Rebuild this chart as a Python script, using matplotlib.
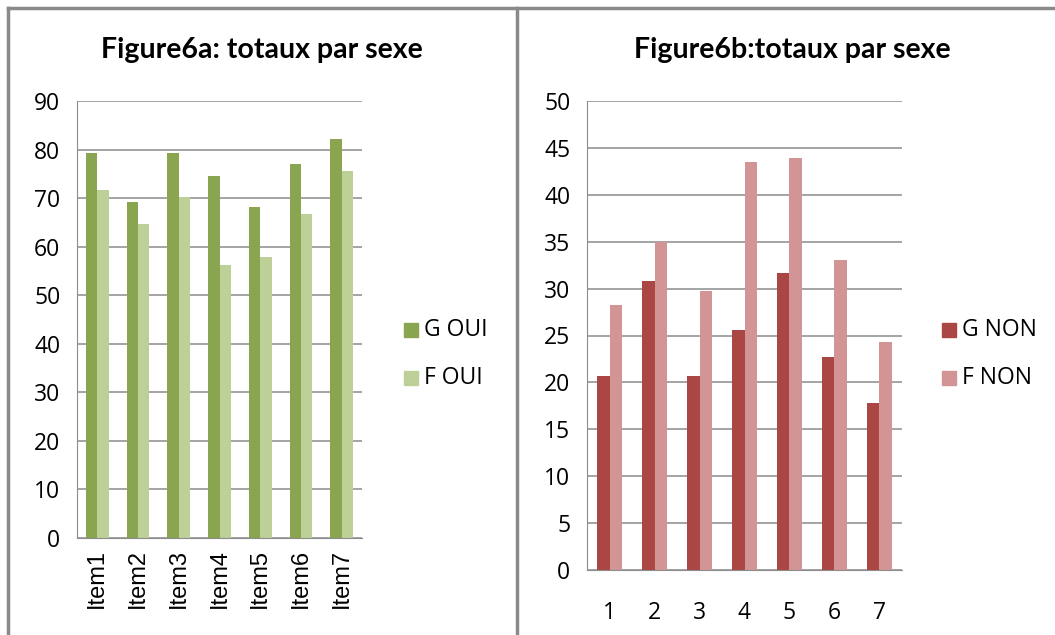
import numpy as np
import matplotlib.pyplot as plt
from matplotlib.lines import Line2D

items_a = ["Item1", "Item2", "Item3", "Item4", "Item5", "Item6", "Item7"]
g_oui = [79.2, 69.2, 79.2, 74.5, 68.1, 77.1, 82.1]
f_oui = [71.6, 64.7, 70.3, 56.3, 57.8, 66.8, 75.5]

items_b = ["1", "2", "3", "4", "5", "6", "7"]
g_non = [20.7, 30.8, 20.7, 25.6, 31.7, 22.7, 17.8]
f_non = [28.2, 35.0, 29.7, 43.5, 43.9, 33.1, 24.3]

W, H = 1055, 635
fig = plt.figure(figsize=(W / 100, H / 100), dpi=100)
fig.patch.set_facecolor("white")

title_font = "Lato"
tick_font = "Open Sans"
tick_size = 16.5


def px_axes(x0, y0, x1, y1):
    return fig.add_axes([x0 / W, 1 - y1 / H, (x1 - x0) / W, (y1 - y0) / H])


def style(ax, ymax, step):
    ax.set_ylim(0, ymax)
    ax.set_yticks(np.arange(0, ymax + 1, step))
    ax.grid(axis="y", color="#8c8c8c", linewidth=1.1)
    ax.set_axisbelow(True)
    for s in ["top", "right"]:
        ax.spines[s].set_visible(False)
    ax.spines["left"].set_color("#8c8c8c")
    ax.spines["bottom"].set_color("#8c8c8c")
    ax.tick_params(axis="y", length=0, pad=12, labelsize=tick_size)
    ax.tick_params(axis="x", length=0)
    for lab in ax.get_yticklabels():
        lab.set_fontfamily(tick_font)


def bars(ax, cats, s1, s2, c1, c2):
    x = np.arange(len(cats))
    w = 0.28
    ax.bar(x - w / 2, s1, w, color=c1)
    ax.bar(x + w / 2, s2, w, color=c2)
    ax.set_xlim(-0.5, len(cats) - 0.5)
    ax.set_xticks(x)


# panel a
ax1 = px_axes(77, 101, 362, 538)
bars(ax1, items_a, g_oui, f_oui, "#8aa54f", "#bcd098")
style(ax1, 90, 10)
ax1.set_xticklabels(items_a, rotation=90, fontsize=17, fontfamily="Liberation Sans")
ax1.tick_params(axis="x", pad=8)
fig.text(262 / W, 1 - 50 / H, "Figure6a: totaux par sexe", ha="center", va="center",
         fontsize=20.5, fontweight="bold", fontfamily=title_font)

# panel b
ax2 = px_axes(587, 101, 902, 570)
bars(ax2, items_b, g_non, f_non, "#aa4644", "#d39495")
style(ax2, 50, 5)
ax2.set_xticklabels(items_b, fontsize=tick_size, fontfamily=tick_font)
ax2.tick_params(axis="x", pad=22)
fig.text(792 / W, 1 - 50 / H, "Figure6b:totaux par sexe", ha="center", va="center",
         fontsize=20.5, fontweight="bold", fontfamily=title_font)


# legends
def legend(x, y, labels, colors):
    for i, (lab, c) in enumerate(zip(labels, colors)):
        yy = y + i * 48
        fig.patches.append(plt.Rectangle((x / W, 1 - (yy + 7) / H), 14 / W, 14 / H,
                                         transform=fig.transFigure, color=c))
        fig.text((x + 20) / W, 1 - yy / H, lab, va="center", ha="left",
                 fontsize=tick_size, fontfamily=tick_font)


legend(404, 330, ["G OUI", "F OUI"], ["#8aa54f", "#bcd098"])
legend(942, 330, ["G NON", "F NON"], ["#aa4644", "#d39495"])

# panel frames
frame = dict(color="#8a8a8a", linewidth=2.5, transform=fig.transFigure)
fig.add_artist(Line2D([8 / W, 8 / W], [0, 1 - 8 / H], **frame))
fig.add_artist(Line2D([517 / W, 517 / W], [0, 1 - 8 / H], **frame))
fig.add_artist(Line2D([8 / W, 1], [1 - 8 / H, 1 - 8 / H], **frame))

fig.savefig("out.png", dpi=100)
